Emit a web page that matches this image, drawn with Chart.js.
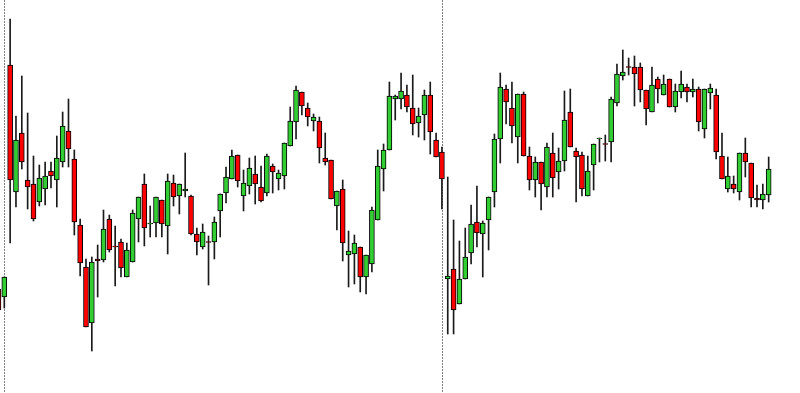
<!DOCTYPE html>
<html>
<head>
<meta charset="utf-8">
<script src="https://cdn.jsdelivr.net/npm/chart.js@4.4.1/dist/chart.umd.min.js"></script>
<style>
  html, body { margin: 0; padding: 0; background: #fff; }
  #wrap { width: 800px; height: 393px; position: relative; }
</style>
</head>
<body>
<div id="wrap"><canvas id="mycanvas"></canvas></div>
<script>
// candle data, first bar is the half hidden one at the left edge
var firstBar = -1;
var opens  = [111,103,335,208,267,220,216,198,211,229,220,238,269,241,175,133,77,141,140,181,154,158,123,138,181,216,176,177,200,174,217,204,209,204,166,153,158.5,158,189,207,221,245,204,214,226,213,207,234,221,224,254,278,308,292,279,279,242,240,194,211,145,146,153,123,136,180,231,250,301,301,305,292,277,285,305,260,248,121,131,96,121,147,178,166,180,208,261,311,292,263,306,244,220,238,213,247,228,239,288,249,245,204,235,261,256.5,258,297,324,333.5,333,333,310,288,321,305,321,293,308,313,308,311,271,307,305,244,211,216,208,247,237,202,200,205];
var highs  = [114,123,381,284,324,287,244,235,238,238,264,288,301,250,181,141,143,155,190,185,174,161,157,190,203,226,194,203,200,226,225,216,247,205,172,176,164,183,206,233,250,245,230,242,244,234,246,236,230,257,293,314,308,297,286,283,267,240,209,220,169,165,153,145,193,250,256,318,305,327,315,325,292,310,318,267,253,223,180,159,172,195,214,179,203,266,327,315,318,306,308,253,243,238,257,267,252,309,311,252,248,244,256,262,265,303,336,350,342,344,337,310,333,323,325,321,316,329,316,321,313,311,316,311,267,243,224,247,262,237,215,216,243];
var lows   = [89,92,157,193,231,191,179,194,195,212,193,233,233,165,124,73,49,103,138,148,114,123,123,138,158,154,163,163,163,146,194,186,203,165,145,151,115,141,163,197,221,213,189,206,196,198,204,207,210,211,254,261,285,274,269,237,235,201,170,139,113,116,108,106,128,180,209,250,280,291,288,265,263,260,246,243,191,66,66,96,121,136,153,123,150,193,237,276,257,237,244,210,203,190,203,203,211,229,253,198,204,204,210,238,239,238,294,320,325,294,298,275,288,297,305,293,288,302,298,303,269,262,291,241,221,208,207,200,223,193,193,191,198];
var closes = [90,123,220,260,238,213,181,222,224,224,242,274,251,178,137,73,138,139,171,150,153,132,150,187,203,172,177,203,176,219,203,216,211,166,158,168,157.5,178,206,223,244,219,217,232,216,199,244,228,227,257,279,310,294,283,283,252,238,201,209,157,149,157,123,145,190,234,250,304,304,309,293,276,284,305,268,243,221,124,90,121,143,176,167,177,203,261,313,298,274,306,244,220,238,216,253,222,239,280,253,243,211,229,256,262,255.5,301,326,328,332.5,326,310,291,315,311,316,293,309,316,308,311,278,311,312,248,221,224,211,247,238,202,200,206,231];
// bars where the dashed period separators are
var separators = [0, 75];

var bodies = [];
var wicks = [];
var fills = [];
for (var i = 0; i < opens.length; i++) {
	var x = firstBar + i;
	bodies.push({x: x, y: [opens[i], closes[i]]});
	wicks.push({x: x, y: [lows[i], highs[i]]});
	fills.push(closes[i] >= opens[i] ? "#32cd32" : "#ff0000");
}

var separatorLines = {
	id: "separatorLines",
	beforeDatasetsDraw: function(chart) {
		var ctx = chart.ctx;
		var area = chart.chartArea;
		ctx.save();
		ctx.strokeStyle = "#808080";
		ctx.lineWidth = 1;
		ctx.setLineDash([2, 1]);
		separators.forEach(function(s) {
			var px = Math.round(chart.scales.x.getPixelForValue(s)) + 0.5;
			ctx.beginPath();
			ctx.moveTo(px, area.top);
			ctx.lineTo(px, area.bottom);
			ctx.stroke();
		});
		ctx.restore();
	}
};

var ctx = document.getElementById("mycanvas");

var CandleGraph = new Chart(ctx, {
	type: "bar",
	data: {
		datasets: [
			{
				label: "body",
				data: bodies,
				backgroundColor: fills,
				borderColor: "#000000",
				borderWidth: 1,
				borderSkipped: false,
				barThickness: 5,
				grouped: false,
				order: 0
			},
			{
				label: "wick",
				data: wicks,
				backgroundColor: "#1a1a1a",
				borderWidth: 0,
				barThickness: 1,
				grouped: false,
				order: 1
			}
		]
	},
	options: {
		responsive: true,
		maintainAspectRatio: false,
		animation: false,
		layout: { padding: 0 },
		plugins: {
			legend: { display: false },
			tooltip: { enabled: false }
		},
		scales: {
			x: { type: "linear", display: false, offset: false, bounds: "data", min: -0.737, max: 136.37 },
			y: { display: false, min: 7, max: 400 }
		}
	},
	plugins: [separatorLines]
});
</script>
</body>
</html>
